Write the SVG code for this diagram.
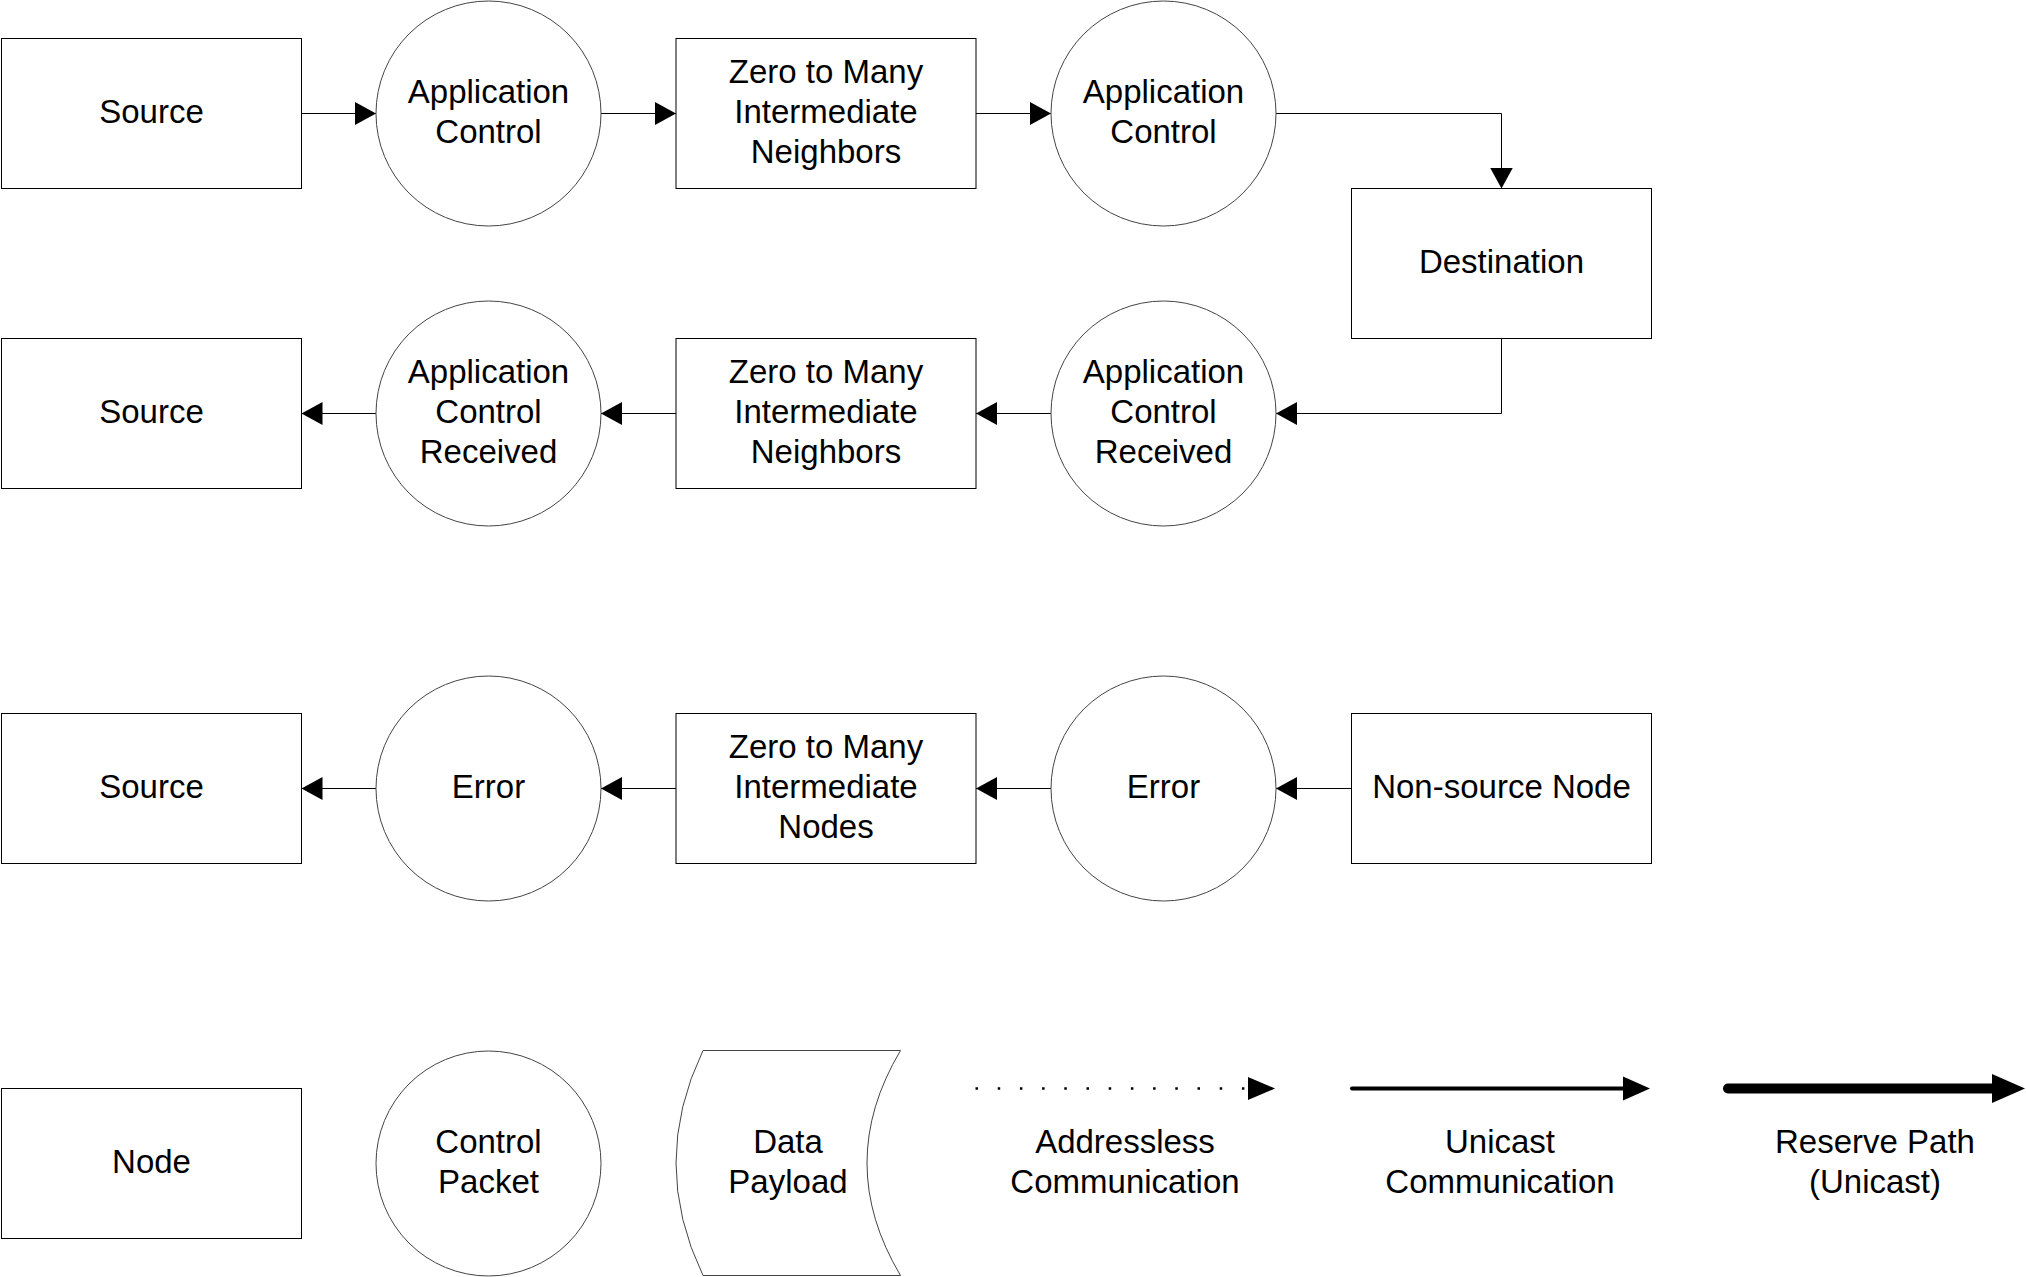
<svg xmlns="http://www.w3.org/2000/svg" width="2026" height="1277" viewBox="0 0 2026 1277">
<style>
.box{fill:#fff;stroke:#000;stroke-width:1}
.circ{fill:#fff;stroke:#444;stroke-width:1}
.lbl{font-family:"Liberation Sans",Arial,Helvetica,sans-serif;font-size:33px;fill:#000;text-anchor:middle}
.con{fill:none;stroke:#000;stroke-width:1;marker-end:url(#arr)}
</style>
<defs>
<marker id="arr" markerWidth="22" markerHeight="24" refX="21" refY="11.5" orient="auto" markerUnits="userSpaceOnUse">
<path d="M0,0 L21,11.5 L0,23 Z" fill="#000"/>
</marker>
</defs>
<rect width="2026" height="1277" fill="#fff"/>

<g id="connectors">
<path class="con" d="M301.5,113.5 H376"/>
<path class="con" d="M601,113.5 H676"/>
<path class="con" d="M976,113.5 H1051"/>
<path class="con" d="M1276,113.5 H1501.5 V188.5"/>
<path class="con" d="M1501.5,338.5 V413.5 H1276"/>
<path class="con" d="M1051,413.5 H976"/>
<path class="con" d="M676,413.5 H601"/>
<path class="con" d="M376,413.5 H301.5"/>
<path class="con" d="M1351,788.5 H1276"/>
<path class="con" d="M1051,788.5 H976"/>
<path class="con" d="M676,788.5 H601"/>
<path class="con" d="M376,788.5 H301.5"/>
</g>

<g id="n-source1"><rect class="box" x="1.5" y="38.5" width="300" height="150"/><text class="lbl" x="151.5" y="122.5">Source</text></g>
<g id="n-appctl1"><circle class="circ" cx="488.5" cy="113.5" r="112.5"/><text class="lbl" x="488.5" y="102.5">Application</text><text class="lbl" x="488.5" y="142.5">Control</text></g>
<g id="n-inter1"><rect class="box" x="676" y="38.5" width="300" height="150"/><text class="lbl" x="826" y="82.5">Zero to Many</text><text class="lbl" x="826" y="122.5">Intermediate</text><text class="lbl" x="826" y="162.5">Neighbors</text></g>
<g id="n-appctl2"><circle class="circ" cx="1163.5" cy="113.5" r="112.5"/><text class="lbl" x="1163.5" y="102.5">Application</text><text class="lbl" x="1163.5" y="142.5">Control</text></g>
<g id="n-dest"><rect class="box" x="1351.5" y="188.5" width="300" height="150"/><text class="lbl" x="1501.5" y="272.5">Destination</text></g>

<g id="n-source2"><rect class="box" x="1.5" y="338.5" width="300" height="150"/><text class="lbl" x="151.5" y="422.5">Source</text></g>
<g id="n-acr1"><circle class="circ" cx="488.5" cy="413.5" r="112.5"/><text class="lbl" x="488.5" y="382.5">Application</text><text class="lbl" x="488.5" y="422.5">Control</text><text class="lbl" x="488.5" y="462.5">Received</text></g>
<g id="n-inter2"><rect class="box" x="676" y="338.5" width="300" height="150"/><text class="lbl" x="826" y="382.5">Zero to Many</text><text class="lbl" x="826" y="422.5">Intermediate</text><text class="lbl" x="826" y="462.5">Neighbors</text></g>
<g id="n-acr2"><circle class="circ" cx="1163.5" cy="413.5" r="112.5"/><text class="lbl" x="1163.5" y="382.5">Application</text><text class="lbl" x="1163.5" y="422.5">Control</text><text class="lbl" x="1163.5" y="462.5">Received</text></g>

<g id="n-source3"><rect class="box" x="1.5" y="713.5" width="300" height="150"/><text class="lbl" x="151.5" y="797.5">Source</text></g>
<g id="n-err1"><circle class="circ" cx="488.5" cy="788.5" r="112.5"/><text class="lbl" x="488.5" y="797.5">Error</text></g>
<g id="n-inter3"><rect class="box" x="676" y="713.5" width="300" height="150"/><text class="lbl" x="826" y="757.5">Zero to Many</text><text class="lbl" x="826" y="797.5">Intermediate</text><text class="lbl" x="826" y="837.5">Nodes</text></g>
<g id="n-err2"><circle class="circ" cx="1163.5" cy="788.5" r="112.5"/><text class="lbl" x="1163.5" y="797.5">Error</text></g>
<g id="n-nonsource"><rect class="box" x="1351.5" y="713.5" width="300" height="150"/><text class="lbl" x="1501.5" y="797.5">Non-source Node</text></g>

<g id="legend-node"><rect class="box" x="1.5" y="1088.5" width="300" height="150"/><text class="lbl" x="151.5" y="1172.5">Node</text></g>
<g id="legend-control"><circle class="circ" cx="488.5" cy="1163.5" r="112.5"/><text class="lbl" x="488.5" y="1152.5">Control</text><text class="lbl" x="488.5" y="1192.5">Packet</text></g>
<g id="legend-payload"><path class="circ" d="M703,1050.5 L900.5,1050.5 Q833.5,1163 900.5,1275.5 L703,1275.5 Q649,1163 703,1050.5 Z"/><text class="lbl" x="788" y="1152.5">Data</text><text class="lbl" x="788" y="1192.5">Payload</text></g>
<g id="legend-addressless">
<line x1="975.5" y1="1088.5" x2="1248" y2="1088.5" stroke="#000" stroke-width="2.5" stroke-dasharray="2.5 19.7"/>
<path d="M1248,1077 L1275,1088.5 L1248,1100 Z" fill="#000"/>
<text class="lbl" x="1125" y="1152.5">Addressless</text><text class="lbl" x="1125" y="1192.5">Communication</text></g>
<g id="legend-unicast">
<line x1="1352" y1="1088.5" x2="1625" y2="1088.5" stroke="#000" stroke-width="4" stroke-linecap="round"/>
<path d="M1623,1076.5 L1650,1088.5 L1623,1100.5 Z" fill="#000"/>
<text class="lbl" x="1500" y="1152.5">Unicast</text><text class="lbl" x="1500" y="1192.5">Communication</text></g>
<g id="legend-reserve">
<line x1="1728" y1="1088.5" x2="1994" y2="1088.5" stroke="#000" stroke-width="10" stroke-linecap="round"/>
<path d="M1992,1074 L2025,1088.5 L1992,1103 Z" fill="#000"/>
<text class="lbl" x="1875" y="1152.5">Reserve Path</text><text class="lbl" x="1875" y="1192.5">(Unicast)</text></g>
</svg>
